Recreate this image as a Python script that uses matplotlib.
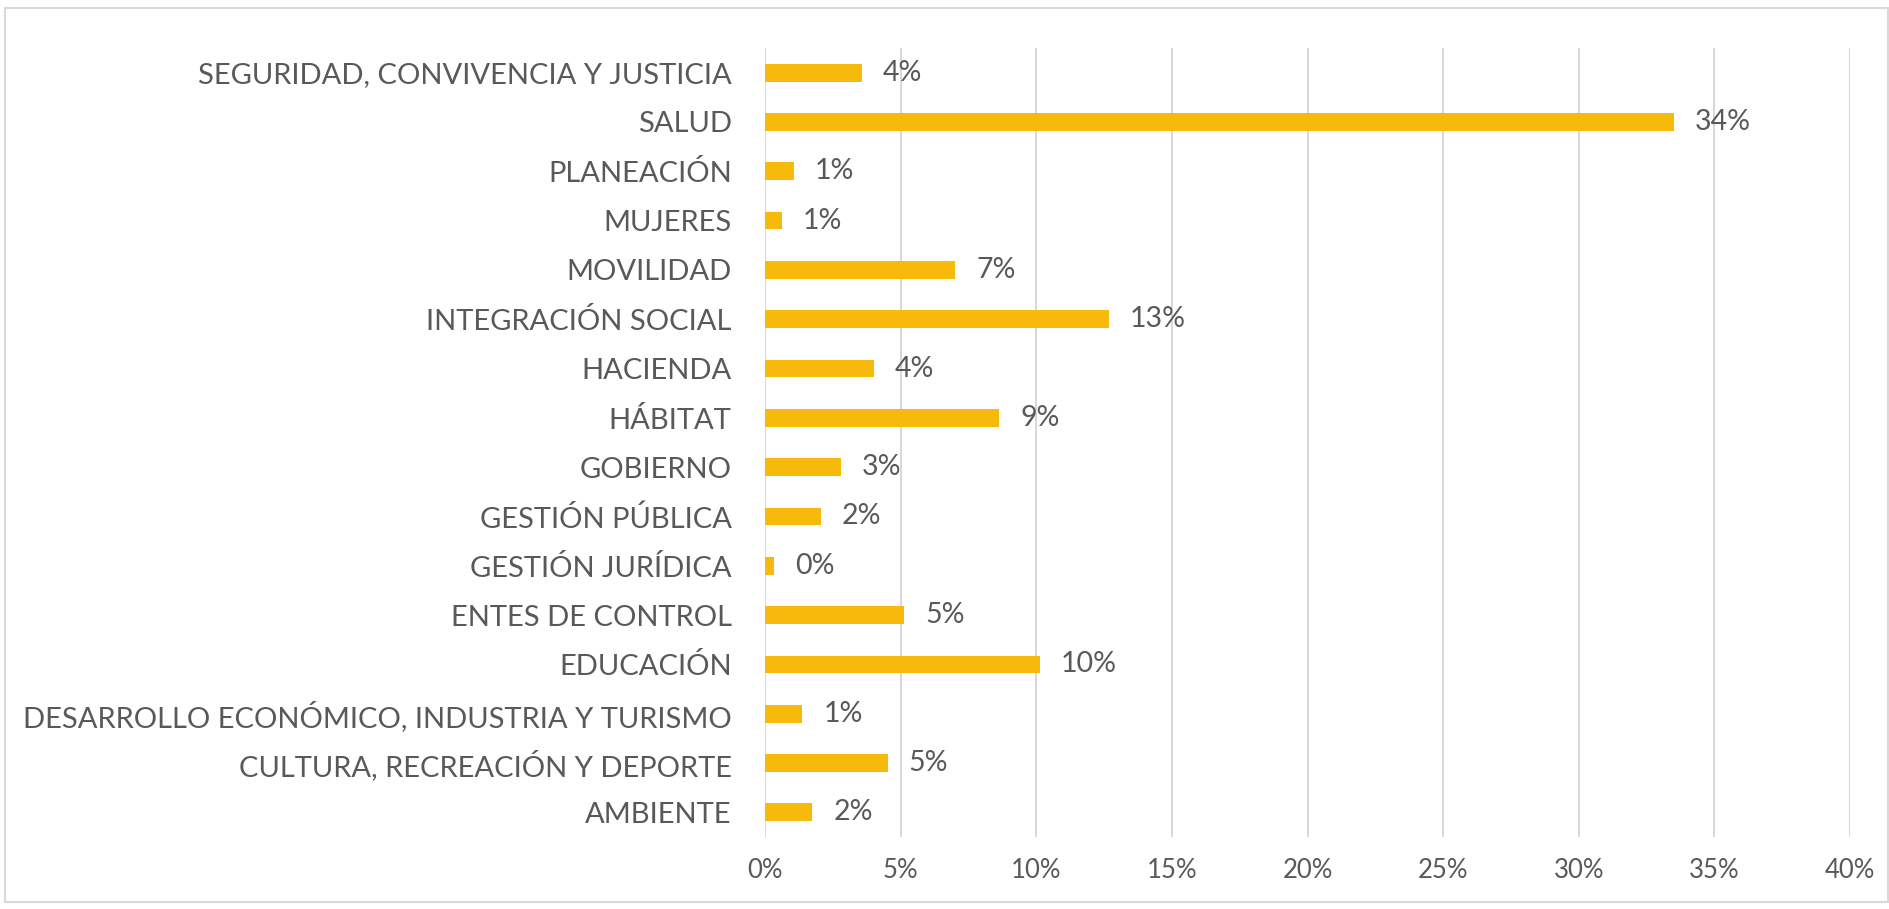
import matplotlib
matplotlib.use("Agg")
import matplotlib.pyplot as plt
from matplotlib.patches import Rectangle
from matplotlib.ticker import FuncFormatter, MultipleLocator

categories = [
    "SEGURIDAD, CONVIVENCIA Y JUSTICIA",
    "SALUD",
    "PLANEACIÓN",
    "MUJERES",
    "MOVILIDAD",
    "INTEGRACIÓN SOCIAL",
    "HACIENDA",
    "HÁBITAT",
    "GOBIERNO",
    "GESTIÓN PÚBLICA",
    "GESTIÓN JURÍDICA",
    "ENTES DE CONTROL",
    "EDUCACIÓN",
    "DESARROLLO ECONÓMICO, INDUSTRIA Y TURISMO",
    "CULTURA, RECREACIÓN Y DEPORTE",
    "AMBIENTE",
]
values = [3.56, 33.5, 1.07, 0.61, 7.0, 12.68, 4.02, 8.63, 2.79, 2.05, 0.34, 5.13, 10.13, 1.37, 4.52, 1.74]
value_labels = ["4%", "34%", "1%", "1%", "7%", "13%", "4%", "9%", "3%", "2%", "0%", "5%", "10%", "1%", "5%", "2%"]

plt.rcParams["font.family"] = ["Lato", "DejaVu Sans"]
TEXT = "#595959"
BAR = "#F7BA0A"

W, H = 1890, 909
fig = plt.figure(figsize=(W / 100, H / 100), dpi=100)
ax = fig.add_axes([765 / W, 1 - 837 / H, (1850 - 765) / W, (837 - 48) / H])

ypos = list(range(len(categories)))
ax.barh(ypos, values, height=0.36, color=BAR, zorder=3)
for y, v, lab in zip(ypos, values, value_labels):
    ax.text(v + 0.78, y, lab, va="center", ha="left", fontsize=20.5, color=TEXT)

ax.set_ylim(len(categories) - 0.5, -0.5)
ax.set_yticks(ypos)
ax.set_yticklabels(categories, fontsize=21, color=TEXT)
ax.set_xlim(0, 40)
ax.xaxis.set_major_locator(MultipleLocator(5))
ax.xaxis.set_major_formatter(FuncFormatter(lambda x, p: f"{x:.0f}%"))
ax.tick_params(axis="x", labelsize=18.5, labelcolor=TEXT, length=0, pad=15)
ax.tick_params(axis="y", length=0, pad=24)
ax.grid(axis="x", color="#D4D4D4", linewidth=1.3, zorder=0)
for s in ax.spines.values():
    s.set_visible(False)

fig.patches.append(Rectangle((5 / W, 1 - 902 / H), (1888 - 5) / W, (902 - 8) / H,
                             transform=fig.transFigure, fill=False,
                             edgecolor="#D9D9D9", linewidth=1.5))

fig.savefig("out.png", dpi=100)
